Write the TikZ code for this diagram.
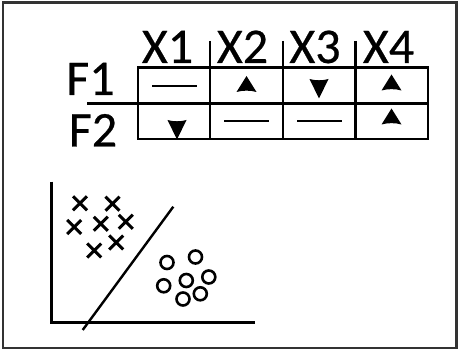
\documentclass[tikz,border=0pt]{standalone}
\usepackage{fontspec}
\setmainfont[FakeBold=0.5]{Carlito}
\newcommand\myuptri[1]{\fill[shift={#1}] (0,-8) -- (10,8) .. controls (4,6.2) and (-4,6.2) .. (-10,8) -- cycle;}
\newcommand\mydntri[1]{\fill[shift={#1}] (0,10) -- (9.5,-9.5) .. controls (4,-7.8) and (-4,-7.8) .. (-9.5,-9.5) -- cycle;}
\newcommand\mycrs[1]{\draw[line width=3pt,shift={#1}] (-7,-7) -- (7,7) (-7,7) -- (7,-7);}
\newcommand\mycirc[1]{\draw[line width=2.6pt,shift={#1}] (0,0) circle (6.5);}
\begin{document}
\begin{tikzpicture}[x=1pt,y=-1pt,
  lbl/.style={anchor=base,inner sep=0pt,font=\fontsize{50}{50}\selectfont},
  tbl/.style={line width=2.4pt,black}]
\useasboundingbox (0,0) rectangle (458,350);
% frame
\draw[line width=2.2pt,black!80] (3,2.5) rectangle (456.5,348);
% labels
\node[lbl] (x1) at (167.5,63) {X1};
\node[lbl] (x2) at (242.5,63) {X2};
\node[lbl] (x3) at (315,63) {X3};
\node[lbl] (x4) at (388.5,63) {X4};
\node[lbl] (f1) at (90.5,95) {F1};
\node[lbl] (f2) at (93,146.5) {F2};
% table
\draw[tbl] (137.7,67.7) rectangle (427.7,139.3);
\draw[tbl] (87,103.7) -- (427.7,103.7);
\foreach \xx in {210,282.7,355.3} {\draw[tbl] (\xx,41) -- (\xx,139.3);}
% cell contents
\draw[line width=2.4pt] (152,86) -- (197,86);
\draw[line width=2.4pt] (224,121) -- (269,121);
\draw[line width=2.4pt] (297,121) -- (342,121);
\myuptri{(246.5,84)}
\mydntri{(319,88.5)}
\myuptri{(391.5,82.5)}
\mydntri{(177,129.5)}
\myuptri{(391.5,116.5)}
% plot
\draw[line width=2.8pt] (51.7,181.7) -- (51.7,322.7) -- (255,322.7);
\draw[line width=2.4pt] (82.7,330) -- (173.3,206.7);
\foreach \p in {(80,203.3),(112.5,203.7),(74.2,227),(100.8,223.8),(125.8,221.7),(94.2,250.5),(116.2,242.5)} {\mycrs{\p}}
\foreach \p in {(167,262.5),(195.5,257),(208.8,277),(186.3,280.5),(163.7,285.8),(183,299),(200.3,293.8)} {\mycirc{\p}}
\end{tikzpicture}
\end{document}
